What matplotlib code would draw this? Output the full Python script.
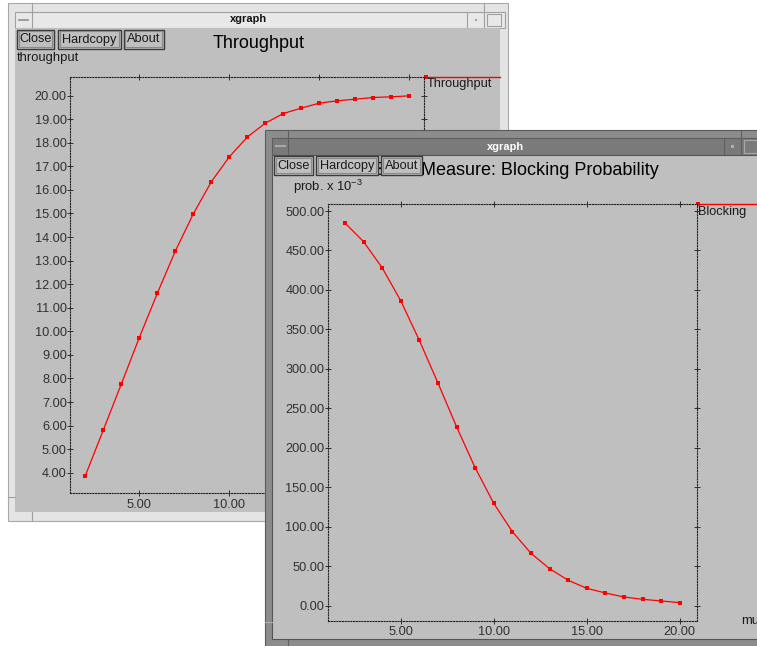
import matplotlib
matplotlib.use('Agg')
import matplotlib.pyplot as plt
from matplotlib.patches import Rectangle
from matplotlib.lines import Line2D
import matplotlib.ticker as mticker

plt.rcParams['font.family'] = ['Liberation Sans', 'DejaVu Sans']
plt.rcParams['mathtext.fontset'] = 'custom'
plt.rcParams['mathtext.rm'] = 'Liberation Sans'
plt.rcParams['mathtext.it'] = 'Liberation Sans'
plt.rcParams['mathtext.bf'] = 'Liberation Sans:bold'

# ---------------- data ----------------
mu = [2, 3, 4, 5, 6, 7, 8, 9, 10, 11, 12, 13, 14, 15, 16, 17, 18, 19, 20]
throughput = [3.87, 5.81, 7.76, 9.73, 11.61, 13.40, 14.98, 16.34, 17.40, 18.24,
              18.83, 19.24, 19.47, 19.68, 19.78, 19.85, 19.92, 19.95, 19.99]
blocking = [484.9, 461.2, 428.2, 386.4, 336.2, 282.2, 226.8, 174.8, 129.7, 93.8,
            66.4, 46.9, 32.2, 22.0, 16.1, 11.0, 8.1, 6.0, 3.8]
x_ticks = [5, 10, 15, 20]
thr_ticks = [4, 5, 6, 7, 8, 9, 10, 11, 12, 13, 14, 15, 16, 17, 18, 19, 20]
blk_ticks = [0, 50, 100, 150, 200, 250, 300, 350, 400, 450, 500]

W, H = 757, 646
fig = plt.figure(figsize=(W / 100, H / 100), dpi=100, facecolor='white')

GRAY = '#bfbfbf'
PT = 0.72  # px -> pt
MS = 2.7


def chrome_axes(z):
    ax = fig.add_axes([0, 0, 1, 1], zorder=z)
    ax.set_xlim(0, W)
    ax.set_ylim(H, 0)
    ax.axis('off')
    ax.patch.set_visible(False)
    return ax


def rect(ax, x0, y0, x1, y1, fc, ec='none', lw=1.0, z=1):
    ax.add_patch(Rectangle((x0, y0), x1 - x0, y1 - y0, facecolor=fc,
                           edgecolor=ec, linewidth=lw, zorder=z))


def hline(ax, x0, x1, y, c, lw=1.0, z=2):
    ax.add_line(Line2D([x0, x1], [y, y], color=c, lw=lw, zorder=z))


def vline(ax, x, y0, y1, c, lw=1.0, z=2):
    ax.add_line(Line2D([x, x], [y0, y1], color=c, lw=lw, zorder=z))


def button(ax, x0, y0, x1, y1, label):
    rect(ax, x0, y0, x1, y1, GRAY, '#3a3a3a', 1.0, z=10)
    rect(ax, x0 + 1.8, y0 + 1.8, x1 - 1.8, y1 - 1.8, 'none', '#8a8a8a', 0.8, z=11)
    ax.text((x0 + x1) / 2, (y0 + y1) / 2 + 0.5, label, ha='center', va='center',
            fontsize=12.8 * PT, color='#1a1a1a', zorder=12)


def style_plot(ax, xlim, ylim, yticks, xpad):
    ax.set_facecolor(GRAY)
    ax.set_xlim(*xlim)
    ax.set_ylim(*ylim)
    for s in ax.spines.values():
        s.set_linestyle((0, (1, 1.5)))
        s.set_linewidth(0.8)
        s.set_color('#222222')
    ax.set_xticks(x_ticks)
    ax.set_yticks(yticks)
    ax.xaxis.set_major_formatter(mticker.FormatStrFormatter('%.2f'))
    ax.yaxis.set_major_formatter(mticker.FormatStrFormatter('%.2f'))
    ax.tick_params(direction='inout', length=4, width=0.7, color='#303030',
                   labelsize=12.8 * PT, labelcolor='#303030',
                   top=True, right=True)
    ax.tick_params(axis='y', pad=0.3)
    ax.tick_params(axis='x', pad=xpad)


# ================= window 1 (back) =================
c1 = chrome_axes(0)
rect(c1, 8, 3, 508, 521, '#e4e4e4', '#a8a8a8', 0.8, z=1)
rect(c1, 15, 12, 505, 28, '#e8e8e8', '#a0a0a0', 0.8, z=2)
vline(c1, 32, 3, 28, '#a0a0a0', 0.8)
vline(c1, 467, 12, 28, '#a0a0a0', 0.8)
vline(c1, 484, 3, 28, '#a0a0a0', 0.8)
hline(c1, 19, 28, 19.5, '#909090', 1.2)
rect(c1, 475, 19, 477, 21, '#a0a0a0', z=3)
rect(c1, 487, 14, 501, 26, 'none', '#a0a0a0', 0.8, z=3)
c1.text(248, 19.5, 'xgraph', ha='center', va='center', fontsize=11 * PT,
        fontweight='bold', color='#111111', zorder=4)
rect(c1, 15, 28, 500, 512, GRAY, 'none', z=2)
vline(c1, 32, 512, 521, '#a0a0a0', 0.8)
hline(c1, 8, 15, 497, '#a0a0a0', 0.8)
button(c1, 17, 29.5, 54, 48.5, 'Close')
button(c1, 58, 29.5, 121, 48.5, 'Hardcopy')
button(c1, 123.5, 29.5, 164, 48.5, 'About')
c1.text(259, 44, 'Throughput', ha='center', va='center', fontsize=18 * PT,
        color='#000000', zorder=5)
c1.text(17, 58, 'throughput', ha='left', va='center', fontsize=13 * PT,
        color='#1a1a1a', zorder=5)
# legend
hline(c1, 425, 500, 77, '#ff0000', 1.0, z=6)
c1.plot([426], [77], 's', color='#ff0000', ms=MS, markeredgewidth=0, zorder=7)
c1.text(427, 84.5, 'Throughput', ha='left', va='center', fontsize=12.8 * PT,
        color='#1a1a1a', zorder=6)

ax1 = fig.add_axes([70 / W, 1 - 493 / H, 354 / W, 416 / H], zorder=1)
style_plot(ax1, (1.15, 20.82), (3.14, 20.79), thr_ticks, 2.6)
ax1.plot(mu, throughput, '-', color='#ff0000', lw=0.9, marker='s', ms=MS,
         markeredgewidth=0)

# ================= window 2 (front) =================
c2 = chrome_axes(2)
rect(c2, 265, 130, 770, 660, '#8c8c8c', '#5a5a5a', 0.8, z=1)
rect(c2, 272, 138, 770, 155, '#7a7a7a', '#5e5e5e', 0.8, z=2)
vline(c2, 288, 130, 155, '#5e5e5e', 0.8)
vline(c2, 724, 138, 155, '#5e5e5e', 0.8)
vline(c2, 741, 130, 155, '#5e5e5e', 0.8)
hline(c2, 276, 285, 146, '#a8a8a8', 1.5)
rect(c2, 731, 145, 733.5, 147.5, '#b0b0b0', z=3)
rect(c2, 744, 140, 757, 153, 'none', '#a8a8a8', 0.8, z=3)
c2.text(505, 146.5, 'xgraph', ha='center', va='center', fontsize=11 * PT,
        fontweight='bold', color='white', zorder=4)
rect(c2, 272, 155, 770, 638.5, GRAY, '#555555', 0.8, z=2)
vline(c2, 288, 638.5, 660, '#5e5e5e', 0.8)
hline(c2, 265, 272, 622, '#b0b0b0', 0.8)
c2.text(516, 170.5, 'State Measure: Blocking Probability', ha='center',
        va='center', fontsize=18 * PT, color='#000000', zorder=5)
button(c2, 274, 156, 313, 175, 'Close')
button(c2, 316, 156, 378, 175, 'Hardcopy')
button(c2, 381, 156, 422, 175, 'About')
c2.text(293, 186.5, r'prob. x 10$^{-3}$', ha='left', va='center',
        fontsize=13 * PT, color='#1a1a1a', zorder=5)
c2.text(741, 621.5, 'mu', ha='left', va='center', fontsize=13 * PT,
        color='#1a1a1a', zorder=5)
# legend
hline(c2, 697, 760, 204.3, '#ff0000', 1.0, z=6)
c2.plot([697.5], [204.3], 's', color='#ff0000', ms=MS, markeredgewidth=0, zorder=7)
c2.text(698, 211.5, 'Blocking', ha='left', va='center', fontsize=12.8 * PT,
        color='#1a1a1a', zorder=6)

ax2 = fig.add_axes([327.7 / W, 1 - 621 / H, 369 / W, 416.7 / H], zorder=3)
style_plot(ax2, (1.075, 20.91), (-19.4, 508.5), blk_ticks, 1.8)
ax2.plot(mu, blocking, '-', color='#ff0000', lw=0.9, marker='s', ms=MS,
         markeredgewidth=0)

fig.savefig('out.png', dpi=100, facecolor='white')
